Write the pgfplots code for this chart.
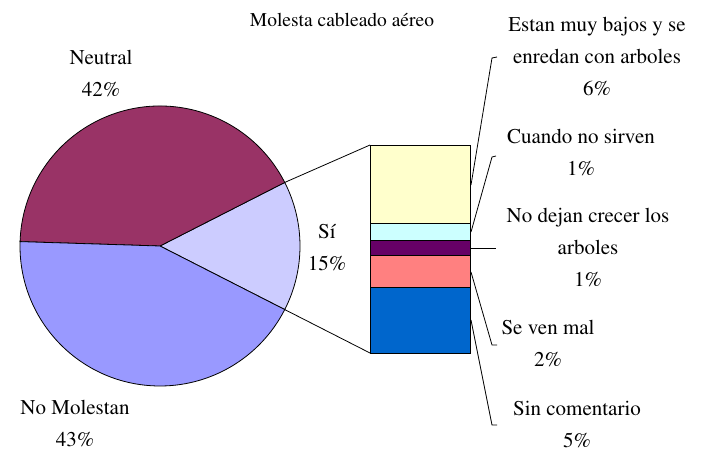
\documentclass[border=0pt]{standalone}
\usepackage[T1]{fontenc}
\renewcommand{\rmdefault}{ptm}
\usepackage{pgfplots}
\pgfplotsset{compat=1.18}
\definecolor{neutral}{HTML}{993366}
\definecolor{nomol}{HTML}{9999FF}
\definecolor{si}{HTML}{CCCCFF}
\definecolor{cyel}{HTML}{FFFFCC}
\definecolor{ccya}{HTML}{CCFFFF}
\definecolor{cpur}{HTML}{660066}
\definecolor{cpin}{HTML}{FF8080}
\definecolor{cblu}{HTML}{0066CC}
\tikzset{lab/.style={font=\fontencoding{T1}\fontfamily{ptm}\fontsize{21}{32}\selectfont,align=center,inner sep=0pt}}
\begin{document}
\begin{tikzpicture}
\begin{axis}[width=709pt,height=451pt,scale only axis,
  xmin=0,xmax=709,ymin=0,ymax=451,axis lines=none,clip=false]
\path (axis cs:0,0) rectangle (axis cs:709,451);
% pie: Si 15, Neutral 42, No Molestan 43 (percent)
\pgfmathsetmacro{\aA}{-27}
\pgfmathsetmacro{\aB}{\aA+15*3.6}
\pgfmathsetmacro{\aC}{\aB+42*3.6}
\pgfmathsetmacro{\aD}{\aC+43*3.6}
\filldraw[fill=si,draw=black,line width=0.8pt] (axis cs:160,205) -- ++(\aA:140pt) arc[start angle=\aA,end angle=\aB,radius=140pt] -- cycle;
\filldraw[fill=neutral,draw=black,line width=0.8pt] (axis cs:160,205) -- ++(\aB:140pt) arc[start angle=\aB,end angle=\aC,radius=140pt] -- cycle;
\filldraw[fill=nomol,draw=black,line width=0.8pt] (axis cs:160,205) -- ++(\aC:140pt) arc[start angle=\aC,end angle=\aD,radius=140pt] -- cycle;
% bar of pie (Sin comentario, Se ven mal, No dejan, Cuando, Estan)
\addplot[fill=cblu,draw=black,line width=0.8pt,mark=none] coordinates {(370,98) (470,98) (470,164) (370,164)} -- cycle;
\addplot[fill=cpin,draw=black,line width=0.8pt,mark=none] coordinates {(370,164) (470,164) (470,196) (370,196)} -- cycle;
\addplot[fill=cpur,draw=black,line width=0.8pt,mark=none] coordinates {(370,196) (470,196) (470,211) (370,211)} -- cycle;
\addplot[fill=ccya,draw=black,line width=0.8pt,mark=none] coordinates {(370,211) (470,211) (470,228) (370,228)} -- cycle;
\addplot[fill=cyel,draw=black,line width=0.8pt,mark=none] coordinates {(370,228) (470,228) (470,306) (370,306)} -- cycle;
% connectors
\draw[line width=0.8pt] (axis cs:160,205) ++(\aB:140pt) -- (axis cs:370,306);
\draw[line width=0.8pt] (axis cs:160,205) ++(\aA:140pt) -- (axis cs:370,98);
% leader lines
\addplot[black,line width=0.8pt,mark=none] coordinates {(471,266) (492,393) (497,394)};
\addplot[black,line width=0.8pt,mark=none] coordinates {(471,219) (492,294) (496,295)};
\addplot[black,line width=0.8pt,mark=none] coordinates {(471,203) (496,203)};
\addplot[black,line width=0.8pt,mark=none] coordinates {(471,179) (492,106) (497,106)};
\addplot[black,line width=0.8pt,mark=none] coordinates {(471,131) (492,26) (497,26)};
% labels
\node[lab,font=\fontencoding{T1}\fontfamily{ptm}\fontsize{19.5}{24}\selectfont] at (axis cs:342,431) {Molesta cableado a\'ereo};
\node[lab] at (axis cs:101,378) {Neutral\\42\%};
\node[lab] at (axis cs:327,204) {S\'{\i}\\15\%};
\node[lab] at (axis cs:75,28) {No Molestan\\43\%};
\node[lab] at (axis cs:597,395) {Estan muy bajos y se\\enredan con arboles\\6\%};
\node[lab] at (axis cs:581,299) {Cuando no sirven\\1\%};
\node[lab] at (axis cs:588,204) {No dejan crecer los\\arboles\\1\%};
\node[lab] at (axis cs:548,108) {Se ven mal\\2\%};
\node[lab] at (axis cs:577,27) {Sin comentario\\5\%};
\end{axis}
\end{tikzpicture}
\end{document}
